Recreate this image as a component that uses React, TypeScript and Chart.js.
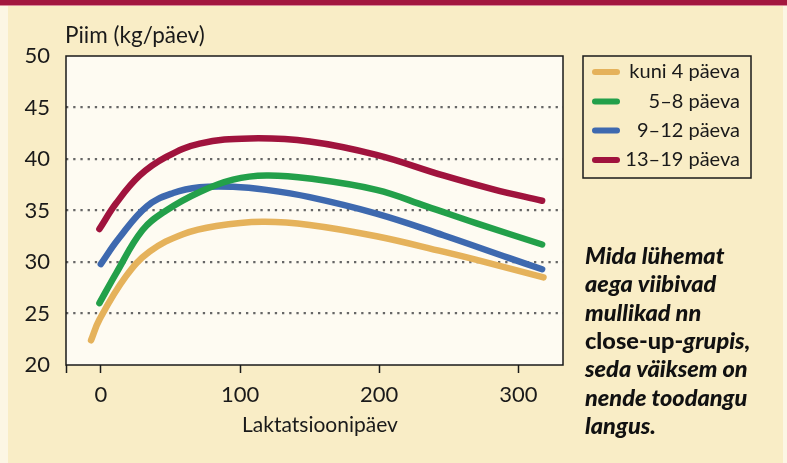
import { useEffect, useRef } from 'react';
import { Chart, registerables } from 'chart.js';

Chart.register(...registerables);

// ---- data ----
const seriesLabels = ['kuni 4 päeva', '5–8 päeva', '9–12 päeva', '13–19 päeva'];
const seriesColors = ['#E5B25B', '#23A04A', '#3E69AF', '#A0133D'];

const kuni4Days = [-7, -1, 18, 35, 59, 83, 116, 150, 198, 246, 270, 318];
const kuni4Milk = [22.4, 24.4, 28.6, 31.0, 32.7, 33.5, 33.9, 33.6, 32.5, 31.0, 30.2, 28.5];

const p58Days = [-1, 11, 30, 47, 71, 95, 119, 150, 198, 234, 270, 317];
const p58Milk = [26.0, 28.9, 33.1, 35.0, 36.8, 38.0, 38.4, 38.1, 37.0, 35.4, 33.75, 31.7];

const p912Days = [0, 13, 33, 52, 71, 95, 119, 150, 198, 246, 293, 317];
const p912Milk = [29.8, 32.3, 35.4, 36.7, 37.25, 37.3, 37.0, 36.3, 34.7, 32.6, 30.4, 29.3];

const p1319Days = [-1, 11, 28, 47, 71, 107, 150, 198, 246, 282, 317];
const p1319Milk = [33.2, 35.7, 38.4, 40.2, 41.5, 42.0, 41.7, 40.4, 38.4, 37.05, 35.95];

const xTickValues = [-25, 0, 100, 200, 300];
const yTickValues = [20, 25, 30, 35, 40, 45, 50];

const yTitle = 'Piim (kg/päev)';
const xTitle = 'Laktatsioonipäev';
const noteLines: { text: string; italic: boolean }[][] = [
  [{ text: 'Mida lühemat', italic: true }],
  [{ text: 'aega viibivad', italic: true }],
  [{ text: 'mullikad nn', italic: true }],
  [{ text: 'close-up-', italic: false }, { text: 'grupis,', italic: true }],
  [{ text: 'seda väiksem on', italic: true }],
  [{ text: 'nende toodangu', italic: true }],
  [{ text: 'langus.', italic: true }],
];

const FONT = 'Lato, "Open Sans", sans-serif';
const TEXT = '#1a1a1a';

const toPoints = (xs: number[], ys: number[]) => xs.map((x, i) => ({ x, y: ys[i] }));

const decor = {
  id: 'decor',
  beforeDraw(chart: any) {
    const { ctx, width, height, chartArea } = chart;
    ctx.save();
    ctx.fillStyle = '#F9EDC6';
    ctx.fillRect(0, 0, width, height);
    ctx.fillStyle = '#FCF6E4';
    ctx.fillRect(0, 0, 8, height);
    ctx.fillRect(783, 0, width - 783, height);
    ctx.fillStyle = '#A3173F';
    ctx.fillRect(0, 0, width, 5);
    ctx.fillStyle = '#D98A9A';
    ctx.fillRect(0, 5, width, 1);
    ctx.fillStyle = '#FEFBF2';
    ctx.fillRect(chartArea.left, chartArea.top, chartArea.right - chartArea.left, chartArea.bottom - chartArea.top);
    ctx.restore();
  },
  afterDraw(chart: any) {
    const { ctx, chartArea } = chart;
    ctx.save();
    // frame
    ctx.strokeStyle = TEXT;
    ctx.lineWidth = 1.5;
    ctx.strokeRect(chartArea.left, chartArea.top, chartArea.right - chartArea.left, chartArea.bottom - chartArea.top);

    // titles
    ctx.fillStyle = TEXT;
    ctx.font = `22.5px ${FONT}`;
    ctx.textBaseline = 'alphabetic';
    ctx.textAlign = 'left';
    ctx.fillText(yTitle, 65, 43);
    ctx.font = `21px ${FONT}`;
    ctx.textAlign = 'center';
    ctx.fillText(xTitle, 320, 432);

    // legend
    const lx = 583, ly = 56, lw = 168, lh = 122;
    ctx.lineWidth = 1.5;
    ctx.strokeStyle = TEXT;
    ctx.strokeRect(lx, ly, lw, lh);
    const rows = [72, 101.5, 130.5, 160];
    chart.data.datasets.forEach((ds: any, i: number) => {
      const y = rows[i];
      ctx.strokeStyle = ds.borderColor;
      ctx.lineWidth = 6;
      ctx.lineCap = 'round';
      ctx.beginPath();
      ctx.moveTo(595, y);
      ctx.lineTo(617, y);
      ctx.stroke();
      ctx.fillStyle = TEXT;
      ctx.font = `20px ${FONT}`;
      ctx.textAlign = 'right';
      ctx.textBaseline = 'middle';
      ctx.fillText(ds.label, 740, y);
    });

    // note
    ctx.textAlign = 'left';
    ctx.textBaseline = 'alphabetic';
    ctx.fillStyle = '#111';
    noteLines.forEach((parts, i) => {
      let x = 585;
      const y = 264 + i * 28.3;
      parts.forEach((p) => {
        ctx.font = `${p.italic ? 'italic ' : ''}900 23.5px ${FONT}`;
        ctx.fillText(p.text, x, y);
        x += ctx.measureText(p.text).width;
      });
    });
    ctx.restore();
  },
};

export default function App() {
  const ref = useRef<HTMLCanvasElement | null>(null);
  useEffect(() => {
    document.body.style.margin = '0';
    const canvas = ref.current;
    if (!canvas) return;
    const series = [
      toPoints(kuni4Days, kuni4Milk),
      toPoints(p58Days, p58Milk),
      toPoints(p912Days, p912Milk),
      toPoints(p1319Days, p1319Milk),
    ];
    const chart = new Chart(canvas, {
      type: 'line',
      data: {
        datasets: series.map((data, i) => ({
          label: seriesLabels[i],
          data,
          borderColor: seriesColors[i],
          backgroundColor: seriesColors[i],
          borderWidth: 6.5,
          borderCapStyle: 'round',
          borderJoinStyle: 'round',
          pointRadius: 0,
          tension: 0.4,
          fill: false,
        })),
      },
      options: {
        animation: false,
        responsive: false,
        devicePixelRatio: 1,
        layout: { padding: { top: 56, right: 224, left: 0, bottom: 0 } },
        plugins: {
          legend: { display: false },
          tooltip: { enabled: false },
          title: { display: false },
        },
        scales: {
          x: {
            type: 'linear',
            min: -25,
            max: 332,
            afterBuildTicks: (s: any) => {
              s.ticks = xTickValues.map((v) => ({ value: v }));
            },
            afterFit: (s: any) => {
              s.height = 98;
            },
            ticks: {
              callback: (v: any) => (Number(v) < 0 ? '' : String(v)),
              font: { family: FONT, size: 22 },
              color: TEXT,
              padding: 9,
              maxRotation: 0,
              autoSkip: false,
            },
            grid: {
              display: true,
              drawOnChartArea: false,
              drawTicks: true,
              tickLength: 8,
              tickColor: TEXT,
              tickWidth: 1.5,
            },
            border: { display: false },
          },
          y: {
            type: 'linear',
            min: 20,
            max: 50,
            afterBuildTicks: (s: any) => {
              s.ticks = yTickValues.map((v) => ({ value: v }));
            },
            afterFit: (s: any) => {
              s.width = 66;
            },
            ticks: {
              font: { family: FONT, size: 22 },
              color: TEXT,
              padding: 16,
            },
            grid: {
              display: true,
              drawTicks: false,
              lineWidth: 2.3,
              color: (c: any) => (c.tick && (c.tick.value === 20 || c.tick.value === 50) ? 'rgba(0,0,0,0)' : '#666666'),
            },
            border: { display: false, dash: [2.3, 4.9] },
          },
        },
      },
      plugins: [decor],
    } as any);
    return () => chart.destroy();
  }, []);
  return <canvas ref={ref} width={787} height={463} style={{ display: 'block', width: 787, height: 463 }} />;
}
